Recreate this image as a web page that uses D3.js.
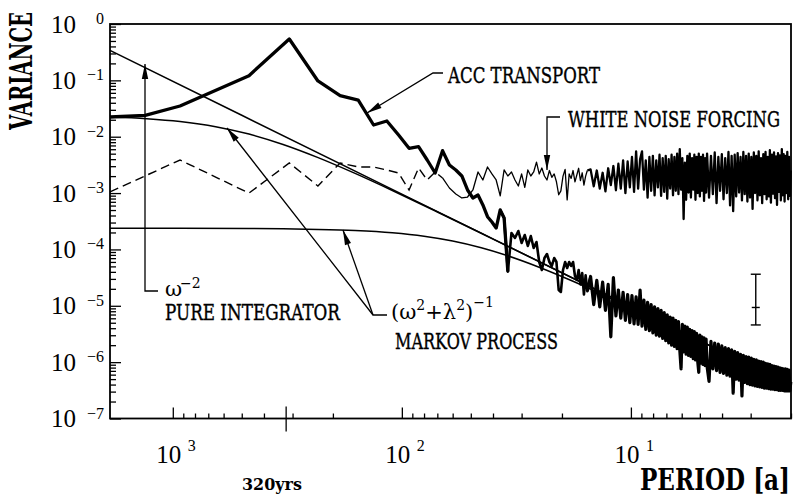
<!DOCTYPE html>
<html><head><meta charset="utf-8">
<script src="https://cdn.jsdelivr.net/npm/d3@7"></script>
<style>body{margin:0;background:#fff;} svg{display:block;}</style>
</head><body>
<svg id="chart" width="794" height="497"></svg>
<script>
// ---------------- DATA ----------------
const recordLength = 930;               // years; spectral estimates at periods recordLength / k
const periodDomain = [1880, 2];
const varianceDomain = [1e-7, 1];
const yTickExps = [0, -1, -2, -3, -4, -5, -6, -7];
const xTickExps = [3, 2, 1];
const markedPeriod = 320;
const markedLabel = "320yrs";

// ACC transport spectrum (log10 variance)
const accStartPeriods = [1880, 1320];
const accStartLog = [-1.65, -1.62];
const accLowLog = [ // k = 1..60
 -1.455,-0.917,-0.266,-1.011,-1.272,-1.349,-1.792,-1.721,-1.97,-2.205,
 -2.177,-2.413,-2.644,-2.248,-2.502,-2.59,-2.697,-2.945,-3.087,-3.034,
 -3.21,-3.419,-3.513,-3.62,-3.30,-3.442,-4.395,-3.708,-3.797,-3.673,
 -3.886,-3.744,-3.939,-3.762,-3.975,-3.868,-4.223,-4.365,-4.152,-4.081,
 -4.223,-4.294,-4.152,-4.223,-4.72,-4.755,-4.365,-4.223,-4.33,-4.223,
 -4.294,-4.223,-4.471,-4.542,-4.365,-4.62,-4.42,-4.80,-4.46,-4.74];
const accHighLog = [ // k = 62..200 step 2, then 204..464 step 4
 -4.48,-4.98,-4.55,-5.02,-4.58,-5.08,-4.62,-5.55,-4.50,-5.18,
 -4.72,-5.22,-4.76,-5.26,-4.80,-5.30,-4.82,-5.32,-4.84,-5.33,
 -4.72,-5.36,-4.90,-5.42,-4.94,-5.44,-4.98,-5.48,-5.02,-5.52,
 -5.05,-5.54,-5.08,-5.58,-5.12,-5.62,-5.16,-5.66,-5.20,-5.70,
 -5.22,-5.72,-5.26,-5.76,-5.28,-5.78,-6.12,-5.33,-5.82,-5.36,
 -5.86,-5.38,-5.88,-5.42,-5.90,-5.44,-5.94,-5.46,-5.96,-5.49,
 -5.98,-6.18,-5.52,-6.02,-5.55,-6.04,-5.57,-6.06,-5.59,-6.08,
 -6.34,-5.63,-6.12,-5.66,-6.15,-5.68,-6.18,-5.71,-6.20,-5.74,
 -6.23,-5.76,-6.25,-5.78,-6.55,-5.81,-6.30,-5.83,-6.32,-5.86,
 -6.60,-5.88,-6.36,-5.90,-6.38,-5.91,-6.40,-5.93,-6.41,-5.95,
 -6.42,-5.96,-6.43,-5.98,-6.44,-5.99,-6.45,-6.00,-6.46,-6.02,
 -6.46,-6.03,-6.47,-6.04,-6.48,-6.06,-6.48,-6.07,-6.49,-6.08,
 -6.49,-6.09,-6.50,-6.10,-6.50,-6.11,-6.50,-6.12,-6.51,-6.12,
 -6.51,-6.13,-6.51,-6.14,-6.51,-6.35];

// White noise forcing spectrum (log10 variance)
const noiseStartPeriods = [1880];
const noiseStartLog = [-2.98];
const noiseLowLog = [ // k = 1..60
 -2.413,-3.0,-2.466,-2.874,-2.466,-2.537,-2.537,-2.59,-2.644,-2.945,
 -2.555,-2.768,-2.626,-2.732,-2.91,-3.016,-3.087,-3.07,-2.945,-2.626,
 -2.768,-2.537,-2.661,-2.768,-3.05,-2.59,-2.697,-2.626,-2.768,-2.874,
 -2.661,-2.90,-2.59,-2.697,-2.626,-2.45,-2.661,-2.555,-2.697,-2.768,
 -2.60,-2.72,-2.66,-2.80,-3.03,-2.96,-2.70,-2.58,-3.12,-2.66,
 -2.74,-2.60,-2.80,-2.68,-2.56,-2.78,-2.64,-2.86,-2.70,-2.60];
const noiseHighLog = [ // k = 62..200 step 2, then 204..464 step 4
 -2.58,-2.88,-2.60,-2.92,-2.64,-2.97,-2.56,-2.86,-2.52,-2.95,
 -2.48,-2.92,-2.42,-3.00,-2.44,-2.90,-2.36,-2.98,-2.26,-2.92,
 -2.40,-2.26,-2.94,-2.42,-3.08,-2.36,-2.96,-2.34,-3.04,-2.42,
 -2.90,-2.32,-3.05,-2.38,-2.98,-2.34,-3.10,-2.40,-2.92,-2.32,
 -3.04,-2.36,-2.96,-2.30,-3.02,-2.22,-2.94,-2.38,-3.46,-2.46,
 -3.12,-2.34,-2.99,-2.30,-3.08,-2.38,-2.94,-2.32,-3.12,-2.36,
 -3.00,-2.30,-3.06,-2.36,-2.96,-2.32,-3.14,-2.38,-2.99,-2.30,
 -3.08,-2.34,-3.02,-2.28,-3.18,-2.36,-2.96,-2.31,-3.11,-2.38,
 -3.00,-2.27,-3.22,-2.34,-3.32,-2.32,-3.06,-2.29,-2.99,-2.36,
 -3.13,-2.27,-3.02,-2.34,-3.15,-2.30,-3.08,-2.36,-3.28,-2.28,
 -3.00,-2.34,-3.13,-2.26,-3.04,-2.38,-3.18,-2.31,-3.02,-2.27,
 -3.11,-2.36,-3.06,-2.24,-3.17,-2.32,-3.01,-2.28,-3.09,-2.35,
 -3.21,-2.29,-2.98,-2.33,-3.13,-2.22,-3.04,-2.31,-3.15,-2.34,
 -3.00,-2.27,-3.11,-2.36,-3.05,-2.60];
const noiseDashedUntilK = 14;

// Theoretical spectra
const integratorPeriods = [1880, 500, 100, 20, 2];
const integratorVar = [0.340, 0.0240, 9.6e-4, 3.85e-5, 3.85e-7];
const markovUpperPeriods = [1880,1300,930,650,465,330,232,160,110,70,40,20,2];
const markovUpperVar = [0.0224,0.0209,0.01861,0.01508,0.01113,0.00729,0.004255,0.002231,0.001109,4.62e-4,1.528e-4,3.844e-5,3.85e-7];
const markovLowerPeriods = [1880,930,465,330,232,160,110,80,60,45,35,25,18,12,8,5,3,2];
const markovLowerVar = [2.370e-4,2.365e-4,2.345e-4,2.319e-4,2.267e-4,2.163e-4,1.970e-4,1.711e-4,1.407e-4,1.069e-4,7.87e-5,4.79e-5,2.753e-5,1.308e-5,5.99e-6,2.379e-6,8.62e-7,3.845e-7];

// Error bar (log10 variance range at a nominal period)
const errPeriod = 2.85;
const errLog = [-4.44, -5.34, -5.03];  // top, bottom, centre

// ---------------- CHART ----------------
const svg = d3.select("#chart");
const L = 110, R = 791, T = 24, B = 418.5;
const x = d3.scaleLog().domain(periodDomain).range([L, R]);
const y = d3.scaleLog().domain(varianceDomain).range([B, T]);

const lowK = d3.range(1, 61);
const highK = d3.range(62, 201, 2).concat(d3.range(204, 465, 4));

function build(startP, startLog, lowLog, highLog) {
  const pts = startP.map((p, i) => ({p, v: Math.pow(10, startLog[i]), k: 0}));
  lowK.forEach((k, i) => pts.push({p: recordLength / k, v: Math.pow(10, lowLog[i]), k}));
  highK.forEach((k, i) => pts.push({p: recordLength / k, v: Math.pow(10, highLog[i]), k}));
  return pts;
}
const acc = build(accStartPeriods, accStartLog, accLowLog, accHighLog);
const noise = build(noiseStartPeriods, noiseStartLog, noiseLowLog, noiseHighLog);

const line = d3.line().x(d => x(d.p)).y(d => y(d.v));
const smooth = d3.line().x(d => x(d.p)).y(d => y(d.v)).curve(d3.curveMonotoneX);
const zip = (P, V) => P.map((p, i) => ({p, v: V[i]}));

const plot = svg.append("g");
[[integratorPeriods, integratorVar], [markovUpperPeriods, markovUpperVar], [markovLowerPeriods, markovLowerVar]]
  .forEach(([P, V]) => plot.append("path").attr("d", smooth(zip(P, V)))
    .attr("fill", "none").attr("stroke", "#000").attr("stroke-width", 1.5));

// white noise forcing
plot.append("path").attr("d", line(noise.filter(d => d.k <= noiseDashedUntilK)))
  .attr("fill", "none").attr("stroke", "#000").attr("stroke-width", 1.4).attr("stroke-dasharray", "9,5");
plot.append("path").attr("d", line(noise.filter(d => d.k >= noiseDashedUntilK && d.k <= 60)))
  .attr("fill", "none").attr("stroke", "#000").attr("stroke-width", 1.3).attr("stroke-linejoin", "round");
plot.append("path").attr("d", line(noise.filter(d => d.k >= 60)))
  .attr("fill", "none").attr("stroke", "#000").attr("stroke-width", 2.3).attr("stroke-linejoin", "round");

// ACC transport
plot.append("path").attr("d", line(acc.filter(d => d.k >= 25 && d.k <= 62)))
  .attr("fill", "none").attr("stroke", "#000").attr("stroke-width", 2.6).attr("stroke-linejoin", "round");
plot.append("path").attr("d", line(acc.filter(d => d.k >= 60)))
  .attr("fill", "none").attr("stroke", "#000").attr("stroke-width", 3.2).attr("stroke-linejoin", "round");
plot.append("path").attr("d", line(acc.filter(d => d.k <= 27)))
  .attr("fill", "none").attr("stroke", "#000").attr("stroke-width", 3.3).attr("stroke-linejoin", "round");

// error bar
const ex = x(errPeriod);
const eb = svg.append("g").attr("stroke", "#000").attr("stroke-width", 1.4);
eb.append("line").attr("x1", ex).attr("x2", ex).attr("y1", y(Math.pow(10, errLog[0]))).attr("y2", y(Math.pow(10, errLog[1])));
[0, 1].forEach(i => eb.append("line").attr("x1", ex - 5).attr("x2", ex + 5)
  .attr("y1", y(Math.pow(10, errLog[i]))).attr("y2", y(Math.pow(10, errLog[i]))));
eb.append("line").attr("x1", ex - 4).attr("x2", ex + 4).attr("y1", y(Math.pow(10, errLog[2]))).attr("y2", y(Math.pow(10, errLog[2])));

// ---------------- AXES ----------------
const minorX = [];
[100, 10, 1].forEach(b => d3.range(2, 10).forEach(m => { const v = b * m; if (v <= periodDomain[0] && v >= periodDomain[1]) minorX.push(v); }));
const minorY = [];
yTickExps.slice(1).forEach(e => d3.range(2, 10).forEach(m => minorY.push(m * Math.pow(10, e))));

const axG = svg.append("g");
function styleAxis(g) { g.select(".domain").remove(); g.selectAll("line").attr("stroke", "#000").attr("stroke-width", 1.3); }
axG.append("g").attr("transform", `translate(0,${B})`)
  .call(d3.axisBottom(x).tickValues(minorX).tickSize(-5).tickFormat("")).call(styleAxis);
axG.append("g").attr("transform", `translate(0,${B})`)
  .call(d3.axisBottom(x).tickValues(xTickExps.map(e => Math.pow(10, e))).tickSize(-11).tickFormat("")).call(styleAxis);
axG.append("g").attr("transform", `translate(${L},0)`)
  .call(d3.axisLeft(y).tickValues(minorY).tickSize(-6).tickFormat("")).call(styleAxis);
axG.append("g").attr("transform", `translate(${L},0)`)
  .call(d3.axisLeft(y).tickValues(yTickExps.map(e => Math.pow(10, e))).tickSize(-11).tickFormat("")).call(styleAxis);
axG.append("line").attr("x1", x(markedPeriod)).attr("x2", x(markedPeriod)).attr("y1", B - 12).attr("y2", B + 13)
  .attr("stroke", "#000").attr("stroke-width", 1.3);
svg.append("rect").attr("x", L).attr("y", T).attr("width", R - L).attr("height", B - T)
  .attr("fill", "none").attr("stroke", "#000").attr("stroke-width", 1.8);

// tick labels
const numFont = "'Liberation Serif', serif";
yTickExps.forEach(e => {
  const ty = y(Math.pow(10, e));
  svg.append("text").attr("x", 76).attr("y", ty + 8.5).attr("text-anchor", "end")
    .attr("font-family", numFont).attr("font-size", 25).text("10");
  svg.append("text").attr("x", 104).attr("y", ty).attr("text-anchor", "end")
    .attr("font-family", numFont).attr("font-size", 16).text(e === 0 ? "0" : "\u2212" + Math.abs(e));
});
xTickExps.forEach(e => {
  const tx = x(Math.pow(10, e));
  svg.append("text").attr("x", tx - 4).attr("y", 463).attr("text-anchor", "middle")
    .attr("font-family", numFont).attr("font-size", 25).text("10");
  svg.append("text").attr("x", tx + 15).attr("y", 451)
    .attr("font-family", numFont).attr("font-size", 16).text(String(e));
});
svg.append("text").attr("x", 272).attr("y", 490).attr("text-anchor", "middle")
  .attr("font-family", "'DejaVu Serif', serif").attr("font-weight", "bold").attr("font-size", 17)
  .attr("textLength", 60).attr("lengthAdjust", "spacingAndGlyphs").text(markedLabel);

// axis titles
svg.append("text").attr("transform", "translate(32,71) rotate(-90)").attr("text-anchor", "middle")
  .attr("font-family", "'DejaVu Serif', serif").attr("font-weight", "bold").attr("font-size", 32)
  .attr("textLength", 118).attr("lengthAdjust", "spacingAndGlyphs").text("VARIANCE");
svg.append("text").attr("x", 640).attr("y", 490)
  .attr("font-family", "'DejaVu Serif', serif").attr("font-weight", "bold").attr("font-size", 30)
  .attr("textLength", 150).attr("lengthAdjust", "spacingAndGlyphs").text("PERIOD [a]");

// ---------------- ANNOTATIONS ----------------
const annFont = "'DejaVu Serif', serif";
const ann = svg.append("g");
function leader(pts) {
  ann.append("polyline").attr("points", pts.map(p => p.join(",")).join(" "))
    .attr("fill", "none").attr("stroke", "#000").attr("stroke-width", 1.3);
  const tip = pts[pts.length - 1], from = pts[pts.length - 2];
  const dx = tip[0] - from[0], dy = tip[1] - from[1], len = Math.hypot(dx, dy);
  const ux = dx / len, uy = dy / len, bx = tip[0] - ux * 15, by = tip[1] - uy * 15;
  ann.append("polygon").attr("points", [[tip[0], tip[1]], [bx - uy * 3.2, by + ux * 3.2], [bx + uy * 3.2, by - ux * 3.2]].map(p => p.join(",")).join(" "))
    .attr("fill", "#000");
}
function label(txt, lx, ly, len, size) {
  ann.append("text").attr("x", lx).attr("y", ly).attr("font-family", annFont).attr("font-size", size || 22)
    .attr("stroke", "#000").attr("stroke-width", 0.4)
    .attr("textLength", len).attr("lengthAdjust", "spacingAndGlyphs").text(txt);
}
leader([[443, 73], [433, 73], [367, 113]]);
label("ACC TRANSPORT", 448, 83, 152);
leader([[560, 117], [547, 117], [547, 170]]);
label("WHITE NOISE FORCING", 568, 127, 212);
leader([[158, 291], [145, 291], [145, 64]]);
ann.append("text").attr("x", 165).attr("y", 296).attr("font-family", annFont).attr("font-size", 21).text("\u03c9");
ann.append("text").attr("x", 180).attr("y", 288).attr("font-family", annFont).attr("font-size", 14).text("\u22122");
label("PURE INTEGRATOR", 165, 320, 175);
leader([[387, 315], [373, 315], [227, 128]]);
leader([[373, 315], [343, 230]]);
const f = ann.append("text").attr("x", 391).attr("y", 319).attr("font-family", annFont).attr("font-size", 21);
f.append("tspan").text("(\u03c9");
f.append("tspan").attr("dy", -9).attr("font-size", 14).text("2");
f.append("tspan").attr("dy", 9).text("+\u03bb");
f.append("tspan").attr("dy", -9).attr("font-size", 14).text("2");
f.append("tspan").attr("dy", 9).text(")");
f.append("tspan").attr("dy", -12).attr("font-size", 14).text("\u22121");
label("MARKOV PROCESS", 395, 349, 163);
</script>
</body></html>
